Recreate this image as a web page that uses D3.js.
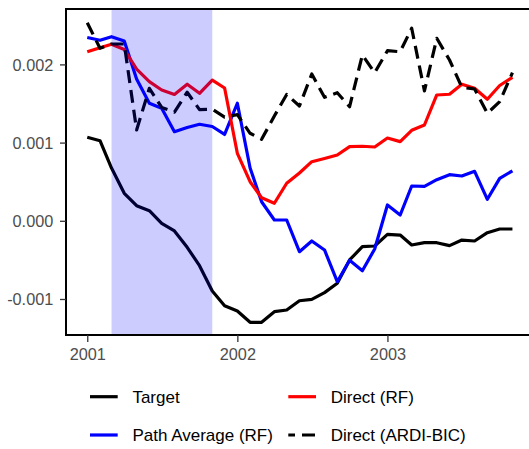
<!doctype html>
<html>
<head>
<meta charset="utf-8"/>
<title>Forecast paths</title>
<script src="https://d3js.org/d3.v7.min.js"></script>
<style>
body { margin: 0; background: white; }
text { font-family: "Liberation Sans", Arial, Helvetica, sans-serif; }
</style>
</head>
<body>
<svg id="chart"></svg>
<script>
// monthly values, 2001-01 .. 2003-11, in units of 1e-3
const months = d3.range(35).map(i => new Date(2001, i, 1))
const target    = [1.068, 1.024, 0.675, 0.352, 0.193, 0.129, -0.032, -0.130, -0.339, -0.574, -0.898, -1.086, -1.153, -1.298, -1.298, -1.162, -1.141, -1.022, -1.004, -0.919, -0.799, -0.501, -0.331, -0.322, -0.173, -0.182, -0.309, -0.280, -0.280, -0.318, -0.246, -0.258, -0.152, -0.105, -0.105]
const pathAvgRF = [2.344, 2.308, 2.354, 2.299, 1.813, 1.503, 1.439, 1.139, 1.193, 1.234, 1.206, 1.104, 1.503, 0.675, 0.244, 0.010, 0.010, -0.395, -0.258, -0.373, -0.779, -0.505, -0.638, -0.361, 0.202, 0.074, 0.445, 0.441, 0.526, 0.590, 0.573, 0.633, 0.275, 0.543, 0.639]
const directRF  = [2.162, 2.214, 2.257, 2.190, 1.941, 1.779, 1.673, 1.615, 1.746, 1.630, 1.800, 1.698, 0.863, 0.500, 0.295, 0.224, 0.480, 0.611, 0.756, 0.797, 0.841, 0.948, 0.953, 0.944, 1.059, 1.012, 1.157, 1.225, 1.609, 1.618, 1.746, 1.694, 1.554, 1.730, 1.835]
const ardiBIC   = [2.533, 2.206, 2.261, 2.261, 1.161, 1.694, 1.449, 1.389, 1.644, 1.421, 1.427, 1.327, 1.357, 1.119, 1.042, 1.340, 1.615, 1.468, 1.877, 1.579, 1.638, 1.459, 2.120, 1.894, 2.175, 2.162, 2.462, 1.660, 2.334, 2.056, 1.707, 1.685, 1.375, 1.523, 1.894]

const seriesNames = ['Target', 'Path Average (RF)', 'Direct (RF)', 'Direct (ARDI-BIC)']
const seriesColors = ['black', 'blue', 'red', 'black']
const seriesDash = [null, null, null, '13,7']
const recession = [new Date(2001, 2, 1), new Date(2001, 10, 1)]
const yTicks = [-0.001, 0, 0.001, 0.002]
const xTicks = [new Date(2001, 0, 1), new Date(2002, 0, 1), new Date(2003, 0, 1)]

const width = 529
const height = 449
const mLeft = 66, mTop = 9, mBottom = 335, mRight = 533.7

const svg = d3.select('#chart')
    .attr('width', width)
    .attr('height', height)

// ggplot style 5% padding on x
const pad = (months[34] - months[0]) * 0.05
const x = d3.scaleTime()
    .domain([new Date(+months[0] - pad), new Date(+months[34] + pad)])
    .range([mLeft, mRight])
const y = d3.scaleLinear()
    .domain([-0.0014604, 0.0027084])
    .range([mBottom, mTop])

const line = d3.line()
    .x((d, i) => x(months[i]))
    .y(d => y(d / 1000))

const all = [target, pathAvgRF, directRF, ardiBIC]
all.forEach((s, k) => {
    svg.append('path')
        .datum(s)
        .attr('d', line)
        .attr('fill', 'none')
        .attr('stroke', seriesColors[k])
        .attr('stroke-width', 3.2)
        .attr('stroke-linejoin', 'round')
        .attr('stroke-dasharray', seriesDash[k])
})

// recession band, drawn over the lines
svg.append('rect')
    .attr('x', x(recession[0]))
    .attr('y', mTop)
    .attr('width', x(recession[1]) - x(recession[0]))
    .attr('height', mBottom - mTop)
    .attr('fill', 'blue')
    .attr('fill-opacity', 0.2)

// panel border
svg.append('rect')
    .attr('x', mLeft)
    .attr('y', mTop)
    .attr('width', mRight - mLeft)
    .attr('height', mBottom - mTop)
    .attr('fill', 'none')
    .attr('stroke', 'black')
    .attr('stroke-width', 2)

const yAxis = svg.append('g')
    .attr('transform', `translate(${mLeft},0)`)
    .call(d3.axisLeft(y).tickValues(yTicks).tickSize(6).tickPadding(6.7)
        .tickFormat(d => d.toFixed(3)))
yAxis.select('.domain').remove()
yAxis.selectAll('line').attr('stroke', '#333').attr('stroke-width', 1.3)
yAxis.selectAll('text').attr('fill', '#4D4D4D').style('font-size', '16.3px')
    .attr('dy', '0.35em')

const xAxis = svg.append('g')
    .attr('transform', `translate(0,${mBottom})`)
    .call(d3.axisBottom(x).tickValues(xTicks).tickSize(7).tickPadding(6.5)
        .tickFormat(d3.timeFormat('%Y')))
xAxis.select('.domain').remove()
xAxis.selectAll('line').attr('stroke', '#333').attr('stroke-width', 1.3)
xAxis.selectAll('text').attr('fill', '#4D4D4D').style('font-size', '16.3px')

// legend, two columns, filled by column
const legendCols = [90, 288.3]
const legendRows = [396.7, 435]
seriesNames.forEach((name, k) => {
    const col = Math.floor(k / 2), row = k % 2
    const g = svg.append('g')
        .attr('transform', `translate(${legendCols[col]},${legendRows[row]})`)
    g.append('line')
        .attr('x1', 0).attr('x2', 27.7)
        .attr('stroke', seriesColors[k])
        .attr('stroke-width', 3.2)
        .attr('stroke-dasharray', seriesDash[k])
        .attr('stroke-dashoffset', seriesDash[k] ? 6.3 : null)
    g.append('text')
        .attr('x', 42.4)
        .attr('dy', '0.36em')
        .style('font-size', '17px')
        .attr('fill', 'black')
        .text(name)
})
</script>
</body>
</html>
